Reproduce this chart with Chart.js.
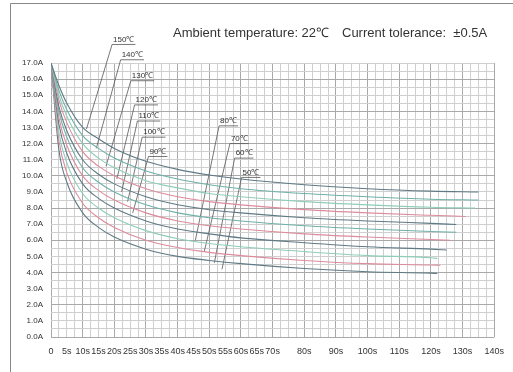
<!DOCTYPE html>
<html>
<head>
<meta charset="utf-8">
<script src="https://cdn.jsdelivr.net/npm/chart.js@4.4.0/dist/chart.umd.min.js"></script>
<style>
html,body{margin:0;padding:0;background:#fff;}
#wrap{position:relative;width:513px;height:372px;}
canvas{position:absolute;left:0;top:0;}
</style>
</head>
<body>
<div id="wrap"><canvas id="c" width="513" height="372"></canvas></div>
<script>
// ---- data ----
const titleLeft = "Ambient temperature: 22\u2103";
const titleRight = "Current tolerance:  \u00b10.5A";
const temps = ["150\u2103","140\u2103","130\u2103","120\u2103","110\u2103","100\u2103","90\u2103","80\u2103","70\u2103","60\u2103","50\u2103"];
const times = [0, 2.5, 5, 10, 15, 20, 30, 40, 50, 60, 80, 100, 120];
const curve150 = [17.0, 15.6, 14.5, 13.0, 12.3, 11.7, 10.9, 10.4, 10.05, 9.8, 9.45, 9.2, 9.05];
const curve140 = [17.0, 15.3, 14.1, 12.5, 11.7, 11.1, 10.3, 9.8, 9.45, 9.2, 8.9, 8.7, 8.55];
const curve130 = [17.0, 15.0, 13.7, 12.0, 11.1, 10.5, 9.7, 9.25, 8.9, 8.7, 8.4, 8.2, 8.05];
const curve120 = [17.0, 14.7, 13.3, 11.5, 10.6, 10.0, 9.2, 8.7, 8.4, 8.2, 7.9, 7.7, 7.55];
const curve110 = [17.0, 14.3, 12.8, 11.0, 10.1, 9.5, 8.7, 8.2, 7.9, 7.7, 7.4, 7.2, 7.05];
const curve100 = [17.0, 14.0, 12.4, 10.5, 9.6, 9.0, 8.2, 7.7, 7.4, 7.2, 6.9, 6.7, 6.55];
const curve90  = [17.0, 13.6, 11.9, 10.0, 9.1, 8.5, 7.7, 7.2, 6.9, 6.7, 6.4, 6.2, 6.05];
const curve80  = [17.0, 13.2, 11.4, 9.5, 8.6, 8.0, 7.2, 6.7, 6.4, 6.15, 5.85, 5.6, 5.45];
const curve70  = [17.0, 12.7, 10.8, 8.9, 8.0, 7.4, 6.6, 6.1, 5.8, 5.6, 5.3, 5.05, 4.92];
const curve60  = [17.0, 12.2, 10.2, 8.3, 7.4, 6.8, 6.0, 5.55, 5.25, 5.05, 4.75, 4.55, 4.47];
const curve50  = [17.0, 11.6, 9.6, 7.7, 6.8, 6.2, 5.45, 5.0, 4.75, 4.55, 4.25, 4.05, 3.96];
const curves = [curve150, curve140, curve130, curve120, curve110, curve100, curve90, curve80, curve70, curve60, curve50];
const endTimes  = [135, 135, 134, 131, 128, 128, 126, 125, 122, 123, 122];
const endValues = [9.0, 8.5, 8.0, 7.48, 6.98, 6.5, 6.0, 5.4, 4.88, 4.45, 3.94];
// leader lines: label anchor (t, A) and curve point (t, A)
const leaderFrom = [[19.3,18.15],[22.0,17.2],[25.2,15.9],[26.4,14.4],[27.3,13.4],[28.8,12.4],[30.8,11.2],[53.1,13.1],[56.5,12.0],[58.0,11.1],[60.2,9.9]];
const leaderTo   = [[11.2,12.9],[14.3,11.7],[17.4,10.6],[20.8,9.8],[22.3,9.0],[24.2,8.4],[25.8,7.7],[45.6,6.0],[48.4,5.3],[51.6,4.6],[54.0,4.2]];
const xLabelTicks = [0,5,10,15,20,25,30,35,40,45,50,55,60,65,70,80,90,100,110,120,130,140];
const yLabelTicks = [0,1,2,3,4,5,6,7,8,9,10,11,12,13,14,15,16,17];

// ---- styles ----
const curveColors = ["#5f7a84","#6fb0a8","#8fcdb9","#dc8c9c","#5f7a84","#6fb0a8","#dc8c9c","#5f7a84","#8fcdb9","#dc8c9c","#5f7a84"];

const datasets = [];
curves.forEach((c, i) => {
  const pts = times.map((t, k) => ({x: t, y: c[k]}));
  pts.push({x: endTimes[i], y: endValues[i]});
  datasets.push({
    label: temps[i], data: pts,
    borderColor: curveColors[i], borderWidth: 1.1, pointRadius: 0,
    cubicInterpolationMode: 'monotone', fill: false
  });
});
leaderFrom.forEach((f, i) => {
  datasets.push({
    label: 'leader ' + temps[i],
    data: [{x: f[0], y: f[1]}, {x: leaderTo[i][0], y: leaderTo[i][1]}],
    borderColor: '#555', borderWidth: 0.8, pointRadius: 0, clip: false, tension: 0
  });
});

const decor = {
  id: 'decor',
  beforeDraw(chart) {
    const ctx = chart.ctx;
    ctx.save();
    ctx.fillStyle = '#fff';
    ctx.fillRect(0, 0, chart.width, chart.height);
    ctx.strokeStyle = '#888';
    ctx.lineWidth = 1;
    ctx.beginPath();
    ctx.moveTo(10.5, 372); ctx.lineTo(10.5, 3.5); ctx.lineTo(513, 3.5);
    ctx.stroke();
    ctx.restore();
  },
  afterDatasetsDraw(chart) {
    const ctx = chart.ctx, xs = chart.scales.x, ys = chart.scales.y;
    ctx.save();
    ctx.fillStyle = '#333';
    ctx.font = '13px "Liberation Sans", Arial, sans-serif';
    ctx.textBaseline = 'middle';
    ctx.fillText(titleLeft, 173, 33);
    ctx.fillText(titleRight, 342, 33);
    ctx.font = '8px "Liberation Sans", Arial, sans-serif';
    ctx.textBaseline = 'bottom';
    ctx.strokeStyle = '#555'; ctx.lineWidth = 0.8;
    leaderFrom.forEach((f, i) => {
      const px = xs.getPixelForValue(f[0]), py = ys.getPixelForValue(f[1]);
      const w = ctx.measureText(temps[i]).width;
      ctx.fillText(temps[i], px + 1, py - 1);
      ctx.beginPath(); ctx.moveTo(px, py); ctx.lineTo(px + w + 2, py); ctx.stroke();
    });
    ctx.restore();
  }
};

new Chart(document.getElementById('c'), {
  type: 'line',
  data: { datasets },
  options: {
    responsive: false, animation: false, devicePixelRatio: 1,
    layout: { padding: { top: 63, right: 11, left: 0, bottom: 0 } },
    plugins: { legend: { display: false }, tooltip: { enabled: false } },
    scales: {
      x: {
        type: 'linear', min: 0, max: 140,
        afterFit(s) { s.height = 35; },
        afterBuildTicks(s) { const a = []; for (let v = 0; v <= 140; v += 2.5) a.push({value: v}); s.ticks = a; },
        ticks: {
          autoSkip: false, maxRotation: 0, padding: 9, color: '#333',
          font: { family: '"Liberation Sans", Arial, sans-serif', size: 9 },
          callback: v => xLabelTicks.includes(v) ? (v === 0 ? '0' : v + 's') : ''
        },
        grid: { drawTicks: false, color: c => (c.tick && c.tick.value % 10 === 0) ? '#a9a9a9' : '#cfcfcf', lineWidth: 1 },
        border: { display: false }
      },
      y: {
        type: 'linear', min: 0, max: 17,
        afterFit(s) { s.width = 51; },
        afterBuildTicks(s) { const a = []; for (let v = 0; v <= 17; v += 0.5) a.push({value: v}); s.ticks = a; },
        ticks: {
          autoSkip: false, padding: 8, color: '#333',
          font: { family: '"Liberation Sans", Arial, sans-serif', size: 8 },
          callback: v => yLabelTicks.includes(v) ? v.toFixed(1) + 'A' : ''
        },
        grid: { drawTicks: false, color: c => (c.tick && c.tick.value % 2 === 0) ? '#a9a9a9' : '#cfcfcf', lineWidth: 1 },
        border: { display: false }
      }
    }
  },
  plugins: [decor]
});
</script>
</body>
</html>
